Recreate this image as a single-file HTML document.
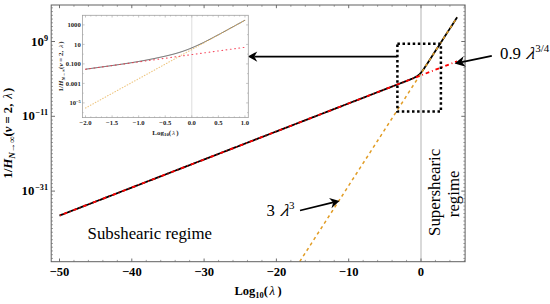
<!DOCTYPE html><html><head><meta charset="utf-8"><style>
html,body{margin:0;padding:0;background:#fff;}
svg{display:block;}
text{font-family:"Liberation Serif",serif;}
</style></head><body>
<svg width="550" height="304" viewBox="0 0 550 304">
<defs><clipPath id="cm"><rect x="51.2" y="5.0" width="413.9" height="256.7"/></clipPath>
<clipPath id="ci"><rect x="82.4" y="15.3" width="165.9" height="102.3"/></clipPath></defs>
<line x1="421.00" y1="5.0" x2="421.00" y2="261.7" stroke="#d0d0d0" stroke-width="1.6"/>
<g clip-path="url(#cm)" fill="none" stroke-linejoin="round">
<path d="M59.50,215.58 L61.09,214.96 L62.68,214.35 L64.27,213.73 L65.86,213.11 L67.45,212.50 L69.04,211.88 L70.63,211.26 L72.22,210.64 L73.82,210.03 L75.41,209.41 L77.00,208.79 L78.59,208.18 L80.18,207.56 L81.77,206.94 L83.36,206.32 L84.95,205.71 L86.54,205.09 L88.13,204.47 L89.72,203.86 L91.31,203.24 L92.90,202.62 L94.49,202.00 L96.08,201.39 L97.67,200.77 L99.26,200.15 L100.86,199.54 L102.45,198.92 L104.04,198.30 L105.63,197.69 L107.22,197.07 L108.81,196.45 L110.40,195.83 L111.99,195.22 L113.58,194.60 L115.17,193.98 L116.76,193.37 L118.35,192.75 L119.94,192.13 L121.53,191.51 L123.12,190.90 L124.71,190.28 L126.31,189.66 L127.90,189.05 L129.49,188.43 L131.08,187.81 L132.67,187.19 L134.26,186.58 L135.85,185.96 L137.44,185.34 L139.03,184.73 L140.62,184.11 L142.21,183.49 L143.80,182.87 L145.39,182.26 L146.98,181.64 L148.57,181.02 L150.16,180.41 L151.75,179.79 L153.35,179.17 L154.94,178.56 L156.53,177.94 L158.12,177.32 L159.71,176.70 L161.30,176.09 L162.89,175.47 L164.48,174.85 L166.07,174.24 L167.66,173.62 L169.25,173.00 L170.84,172.38 L172.43,171.77 L174.02,171.15 L175.61,170.53 L177.20,169.92 L178.79,169.30 L180.39,168.68 L181.98,168.06 L183.57,167.45 L185.16,166.83 L186.75,166.21 L188.34,165.60 L189.93,164.98 L191.52,164.36 L193.11,163.74 L194.70,163.13 L196.29,162.51 L197.88,161.89 L199.47,161.28 L201.06,160.66 L202.65,160.04 L204.24,159.43 L205.84,158.81 L207.43,158.19 L209.02,157.57 L210.61,156.96 L212.20,156.34 L213.79,155.72 L215.38,155.11 L216.97,154.49 L218.56,153.87 L220.15,153.25 L221.74,152.64 L223.33,152.02 L224.92,151.40 L226.51,150.79 L228.10,150.17 L229.69,149.55 L231.28,148.93 L232.88,148.32 L234.47,147.70 L236.06,147.08 L237.65,146.47 L239.24,145.85 L240.83,145.23 L242.42,144.61 L244.01,144.00 L245.60,143.38 L247.19,142.76 L248.78,142.15 L250.37,141.53 L251.96,140.91 L253.55,140.29 L255.14,139.68 L256.73,139.06 L258.32,138.44 L259.92,137.83 L261.51,137.21 L263.10,136.59 L264.69,135.98 L266.28,135.36 L267.87,134.74 L269.46,134.12 L271.05,133.51 L272.64,132.89 L274.23,132.27 L275.82,131.66 L277.41,131.04 L279.00,130.42 L280.59,129.80 L282.18,129.19 L283.77,128.57 L285.37,127.95 L286.96,127.34 L288.55,126.72 L290.14,126.10 L291.73,125.48 L293.32,124.87 L294.91,124.25 L296.50,123.63 L298.09,123.02 L299.68,122.40 L301.27,121.78 L302.86,121.16 L304.45,120.55 L306.04,119.93 L307.63,119.31 L309.22,118.70 L310.81,118.08 L312.41,117.46 L314.00,116.85 L315.59,116.23 L317.18,115.61 L318.77,114.99 L320.36,114.38 L321.95,113.76 L323.54,113.14 L325.13,112.53 L326.72,111.91 L328.31,111.29 L329.90,110.67 L331.49,110.06 L333.08,109.44 L334.67,108.82 L336.26,108.21 L337.86,107.59 L339.45,106.97 L341.04,106.35 L342.63,105.74 L344.22,105.12 L345.81,104.50 L347.40,103.89 L348.99,103.27 L350.58,102.65 L352.17,102.03 L353.76,101.42 L355.35,100.80 L356.94,100.18 L358.53,99.57 L360.12,98.95 L361.71,98.33 L363.30,97.72 L364.90,97.10 L366.49,96.48 L368.08,95.86 L369.67,95.25 L371.26,94.63 L372.85,94.01 L374.44,93.40 L376.03,92.78 L377.62,92.16 L379.21,91.54 L380.80,90.93 L382.39,90.31 L383.98,89.69 L385.57,89.08 L387.16,88.46 L388.75,87.84 L390.34,87.22 L391.94,86.61 L393.53,85.99 L395.12,85.37 L396.71,84.76 L398.30,84.14 L399.89,83.52 L401.48,82.90 L403.07,82.29 L404.66,81.67 L406.25,81.05 L407.84,80.44 L409.43,79.82 L411.02,79.18 L412.61,78.51 L414.20,77.76 L415.79,76.89 L417.38,75.93 L418.98,74.78 L420.57,73.25 L422.16,71.28 L423.75,69.02 L425.34,66.62 L426.93,64.17 L428.52,61.70 L430.11,59.24 L431.70,56.77 L433.29,54.30 L434.88,51.83 L436.47,49.36 L438.06,46.90 L439.65,44.43 L441.24,41.96 L442.83,39.49 L444.43,37.02 L446.02,34.55 L447.61,32.09 L449.20,29.62 L450.79,27.15 L452.38,24.68 L453.97,22.21 L455.56,19.74 L457.15,17.28" stroke="#000" stroke-width="1.8"/>
<path d="M290.86,275.34 L457.15,17.28" stroke="#E19C24" stroke-width="1.5" stroke-dasharray="3.2 3.255" stroke-dashoffset="3.0"/>
<path d="M59.50,215.58 L457.15,61.31" stroke="#FF0000" stroke-width="1.8" stroke-dasharray="3.8 2.9 0.9 2.9" stroke-dashoffset="6.2" stroke-linecap="butt"/>
</g>
<path d="M73.96,261.7 v-1.8 M73.96,5.0 v1.8 M88.42,261.7 v-1.8 M88.42,5.0 v1.8 M102.88,261.7 v-1.8 M102.88,5.0 v1.8 M117.34,261.7 v-1.8 M117.34,5.0 v1.8 M146.26,261.7 v-1.8 M146.26,5.0 v1.8 M160.72,261.7 v-1.8 M160.72,5.0 v1.8 M175.18,261.7 v-1.8 M175.18,5.0 v1.8 M189.64,261.7 v-1.8 M189.64,5.0 v1.8 M218.56,261.7 v-1.8 M218.56,5.0 v1.8 M233.02,261.7 v-1.8 M233.02,5.0 v1.8 M247.48,261.7 v-1.8 M247.48,5.0 v1.8 M261.94,261.7 v-1.8 M261.94,5.0 v1.8 M290.86,261.7 v-1.8 M290.86,5.0 v1.8 M305.32,261.7 v-1.8 M305.32,5.0 v1.8 M319.78,261.7 v-1.8 M319.78,5.0 v1.8 M334.24,261.7 v-1.8 M334.24,5.0 v1.8 M363.16,261.7 v-1.8 M363.16,5.0 v1.8 M377.62,261.7 v-1.8 M377.62,5.0 v1.8 M392.08,261.7 v-1.8 M392.08,5.0 v1.8 M406.54,261.7 v-1.8 M406.54,5.0 v1.8 M435.46,261.7 v-1.8 M435.46,5.0 v1.8 M449.92,261.7 v-1.8 M449.92,5.0 v1.8 M464.38,261.7 v-1.8 M464.38,5.0 v1.8 M51.2,258.42 h1.8 M465.1,258.42 h-1.8 M51.2,254.68 h1.8 M465.1,254.68 h-1.8 M51.2,250.94 h1.8 M465.1,250.94 h-1.8 M51.2,247.20 h1.8 M465.1,247.20 h-1.8 M51.2,243.46 h1.8 M465.1,243.46 h-1.8 M51.2,239.72 h1.8 M465.1,239.72 h-1.8 M51.2,235.98 h1.8 M465.1,235.98 h-1.8 M51.2,232.24 h1.8 M465.1,232.24 h-1.8 M51.2,228.50 h1.8 M465.1,228.50 h-1.8 M51.2,224.76 h1.8 M465.1,224.76 h-1.8 M51.2,221.02 h1.8 M465.1,221.02 h-1.8 M51.2,217.28 h1.8 M465.1,217.28 h-1.8 M51.2,213.54 h1.8 M465.1,213.54 h-1.8 M51.2,209.80 h1.8 M465.1,209.80 h-1.8 M51.2,206.06 h1.8 M465.1,206.06 h-1.8 M51.2,202.32 h1.8 M465.1,202.32 h-1.8 M51.2,198.58 h1.8 M465.1,198.58 h-1.8 M51.2,194.84 h1.8 M465.1,194.84 h-1.8 M51.2,187.36 h1.8 M465.1,187.36 h-1.8 M51.2,183.62 h1.8 M465.1,183.62 h-1.8 M51.2,179.88 h1.8 M465.1,179.88 h-1.8 M51.2,176.14 h1.8 M465.1,176.14 h-1.8 M51.2,172.40 h1.8 M465.1,172.40 h-1.8 M51.2,168.66 h1.8 M465.1,168.66 h-1.8 M51.2,164.92 h1.8 M465.1,164.92 h-1.8 M51.2,161.18 h1.8 M465.1,161.18 h-1.8 M51.2,157.44 h1.8 M465.1,157.44 h-1.8 M51.2,153.70 h1.8 M465.1,153.70 h-1.8 M51.2,149.96 h1.8 M465.1,149.96 h-1.8 M51.2,146.22 h1.8 M465.1,146.22 h-1.8 M51.2,142.48 h1.8 M465.1,142.48 h-1.8 M51.2,138.74 h1.8 M465.1,138.74 h-1.8 M51.2,135.00 h1.8 M465.1,135.00 h-1.8 M51.2,131.26 h1.8 M465.1,131.26 h-1.8 M51.2,127.52 h1.8 M465.1,127.52 h-1.8 M51.2,123.78 h1.8 M465.1,123.78 h-1.8 M51.2,120.04 h1.8 M465.1,120.04 h-1.8 M51.2,112.56 h1.8 M465.1,112.56 h-1.8 M51.2,108.82 h1.8 M465.1,108.82 h-1.8 M51.2,105.08 h1.8 M465.1,105.08 h-1.8 M51.2,101.34 h1.8 M465.1,101.34 h-1.8 M51.2,97.60 h1.8 M465.1,97.60 h-1.8 M51.2,93.86 h1.8 M465.1,93.86 h-1.8 M51.2,90.12 h1.8 M465.1,90.12 h-1.8 M51.2,86.38 h1.8 M465.1,86.38 h-1.8 M51.2,82.64 h1.8 M465.1,82.64 h-1.8 M51.2,78.90 h1.8 M465.1,78.90 h-1.8 M51.2,75.16 h1.8 M465.1,75.16 h-1.8 M51.2,71.42 h1.8 M465.1,71.42 h-1.8 M51.2,67.68 h1.8 M465.1,67.68 h-1.8 M51.2,63.94 h1.8 M465.1,63.94 h-1.8 M51.2,60.20 h1.8 M465.1,60.20 h-1.8 M51.2,56.46 h1.8 M465.1,56.46 h-1.8 M51.2,52.72 h1.8 M465.1,52.72 h-1.8 M51.2,48.98 h1.8 M465.1,48.98 h-1.8 M51.2,45.24 h1.8 M465.1,45.24 h-1.8 M51.2,37.76 h1.8 M465.1,37.76 h-1.8 M51.2,34.02 h1.8 M465.1,34.02 h-1.8 M51.2,30.28 h1.8 M465.1,30.28 h-1.8 M51.2,26.54 h1.8 M465.1,26.54 h-1.8 M51.2,22.80 h1.8 M465.1,22.80 h-1.8 M51.2,19.06 h1.8 M465.1,19.06 h-1.8 M51.2,15.32 h1.8 M465.1,15.32 h-1.8 M51.2,11.58 h1.8 M465.1,11.58 h-1.8 M51.2,7.84 h1.8 M465.1,7.84 h-1.8" stroke="#7a7a7a" stroke-width="0.7" fill="none"/>
<path d="M59.50,261.7 v-3.2 M59.50,5.0 v3.2 M131.80,261.7 v-3.2 M131.80,5.0 v3.2 M204.10,261.7 v-3.2 M204.10,5.0 v3.2 M276.40,261.7 v-3.2 M276.40,5.0 v3.2 M348.70,261.7 v-3.2 M348.70,5.0 v3.2 M421.00,261.7 v-3.2 M421.00,5.0 v3.2 M51.2,191.10 h3.8 M465.1,191.10 h-3.8 M51.2,116.30 h3.8 M465.1,116.30 h-3.8 M51.2,41.50 h3.8 M465.1,41.50 h-3.8" stroke="#606060" stroke-width="0.9" fill="none"/>
<rect x="51.2" y="5.0" width="413.9" height="256.7" fill="none" stroke="#606060" stroke-width="1"/>
<text x="59.50" y="276" font-size="12.6" font-weight="bold" text-anchor="middle">−50</text>
<text x="131.80" y="276" font-size="12.6" font-weight="bold" text-anchor="middle">−40</text>
<text x="204.10" y="276" font-size="12.6" font-weight="bold" text-anchor="middle">−30</text>
<text x="276.40" y="276" font-size="12.6" font-weight="bold" text-anchor="middle">−20</text>
<text x="348.70" y="276" font-size="12.6" font-weight="bold" text-anchor="middle">−10</text>
<text x="421.00" y="276" font-size="12.6" font-weight="bold" text-anchor="middle">0</text>
<text x="48" y="45.60" font-size="12.8" font-weight="bold" text-anchor="end">10<tspan font-size="8.2" dy="-5" dx="0">9</tspan></text>
<text x="48" y="120.40" font-size="12.8" font-weight="bold" text-anchor="end">10<tspan font-size="8.2" dy="-5" dx="0.8">−11</tspan></text>
<text x="48" y="195.20" font-size="12.8" font-weight="bold" text-anchor="end">10<tspan font-size="8.2" dy="-5" dx="0.8">−31</tspan></text>
<text x="234.5" y="294.8" font-size="12.5" font-weight="bold">Log<tspan font-size="8.5" dy="3">10</tspan><tspan dy="-3">(</tspan><tspan font-style="italic" font-weight="normal" dx="1.5">λ</tspan><tspan dx="2.5">)</tspan></text>
<text transform="translate(12.4,178.4) rotate(-90)" font-size="12.6" font-weight="bold">1/<tspan font-style="italic">H</tspan><tspan font-size="9.2" dy="2.6" font-style="italic">N→∞</tspan><tspan dy="-2.6">(</tspan><tspan font-style="italic">v</tspan> = 2, <tspan font-style="italic" font-weight="normal" dx="1.8">λ</tspan><tspan dx="1.2">)</tspan></text>
<text x="87.6" y="239.3" font-size="16.8">Subshearic regime</text>
<text x="266.5" y="216.3" font-size="16.8">3</text>
<text transform="translate(280.6,216.3) skewX(-14) scale(1.12,1)" font-size="17" font-style="italic">λ</text>
<text x="289.0" y="208.8" font-size="11">3</text>
<text x="500" y="59" font-size="16.8">0.9</text>
<text transform="translate(526.3,59) skewX(-14) scale(1.12,1)" font-size="17" font-style="italic">λ</text>
<text x="535.2" y="51.6" font-size="11">3/4</text>
<text transform="translate(440,236) rotate(-90)" font-size="16.9">Supershearic</text>
<text transform="translate(458.8,217.2) rotate(-90)" font-size="16.8">regime</text>
<rect x="397.4" y="43.8" width="43.5" height="67.8" fill="none" stroke="#000" stroke-width="2.5" stroke-dasharray="2.5 2.6"/>
<line x1="397.30" y1="56.60" x2="254.30" y2="56.60" stroke="#000" stroke-width="1.8"/><path d="M247.80,56.60 L257.30,51.40 L254.30,56.60 L257.30,61.80 Z" fill="#000"/>
<line x1="491.80" y1="55.80" x2="461.74" y2="62.10" stroke="#000" stroke-width="1.8"/><path d="M454.60,63.60 L463.57,56.20 L461.74,62.10 L465.79,66.77 Z" fill="#000"/>
<line x1="300.00" y1="210.50" x2="333.18" y2="202.44" stroke="#000" stroke-width="1.8"/><path d="M339.50,200.90 L331.50,208.20 L333.18,202.44 L329.04,198.09 Z" fill="#000"/>
<rect x="82.4" y="15.3" width="165.9" height="102.3" fill="#fff" stroke="none"/>
<line x1="191.80" y1="15.3" x2="191.80" y2="117.6" stroke="#ddd" stroke-width="1"/>
<g clip-path="url(#ci)" fill="none">
<path d="M85.50,69.22 L86.14,69.13 L86.78,69.05 L87.41,68.96 L88.05,68.87 L88.69,68.78 L89.33,68.69 L89.96,68.61 L90.60,68.52 L91.24,68.43 L91.88,68.34 L92.52,68.25 L93.15,68.17 L93.79,68.08 L94.43,67.99 L95.07,67.90 L95.70,67.82 L96.34,67.73 L96.98,67.64 L97.62,67.55 L98.26,67.46 L98.89,67.38 L99.53,67.29 L100.17,67.20 L100.81,67.11 L101.45,67.02 L102.08,66.93 L102.72,66.85 L103.36,66.76 L104.00,66.67 L104.63,66.58 L105.27,66.49 L105.91,66.40 L106.55,66.32 L107.19,66.23 L107.82,66.14 L108.46,66.05 L109.10,65.96 L109.74,65.87 L110.37,65.78 L111.01,65.69 L111.65,65.60 L112.29,65.51 L112.93,65.43 L113.56,65.34 L114.20,65.25 L114.84,65.16 L115.48,65.06 L116.11,64.97 L116.75,64.88 L117.39,64.79 L118.03,64.70 L118.67,64.61 L119.30,64.52 L119.94,64.42 L120.58,64.33 L121.22,64.24 L121.85,64.15 L122.49,64.05 L123.13,63.96 L123.77,63.86 L124.41,63.77 L125.04,63.67 L125.68,63.58 L126.32,63.48 L126.96,63.38 L127.59,63.29 L128.23,63.19 L128.87,63.09 L129.51,62.99 L130.15,62.89 L130.78,62.79 L131.42,62.69 L132.06,62.58 L132.70,62.48 L133.34,62.38 L133.97,62.27 L134.61,62.17 L135.25,62.06 L135.89,61.95 L136.52,61.85 L137.16,61.74 L137.80,61.63 L138.44,61.52 L139.08,61.41 L139.71,61.29 L140.35,61.18 L140.99,61.07 L141.63,60.95 L142.26,60.84 L142.90,60.72 L143.54,60.60 L144.18,60.49 L144.82,60.37 L145.45,60.25 L146.09,60.13 L146.73,60.01 L147.37,59.88 L148.00,59.76 L148.64,59.64 L149.28,59.51 L149.92,59.39 L150.56,59.26 L151.19,59.13 L151.83,59.01 L152.47,58.88 L153.11,58.75 L153.74,58.62 L154.38,58.49 L155.02,58.36 L155.66,58.22 L156.30,58.09 L156.93,57.96 L157.57,57.82 L158.21,57.69 L158.85,57.55 L159.48,57.42 L160.12,57.28 L160.76,57.14 L161.40,57.00 L162.04,56.86 L162.67,56.72 L163.31,56.58 L163.95,56.44 L164.59,56.29 L165.23,56.15 L165.86,56.00 L166.50,55.85 L167.14,55.71 L167.78,55.55 L168.41,55.40 L169.05,55.25 L169.69,55.09 L170.33,54.93 L170.97,54.77 L171.60,54.61 L172.24,54.44 L172.88,54.28 L173.52,54.11 L174.15,53.94 L174.79,53.76 L175.43,53.58 L176.07,53.40 L176.71,53.22 L177.34,53.03 L177.98,52.84 L178.62,52.65 L179.26,52.45 L179.89,52.25 L180.53,52.05 L181.17,51.84 L181.81,51.63 L182.45,51.42 L183.08,51.20 L183.72,50.98 L184.36,50.75 L185.00,50.53 L185.63,50.29 L186.27,50.06 L186.91,49.82 L187.55,49.58 L188.19,49.33 L188.82,49.08 L189.46,48.83 L190.10,48.57 L190.74,48.31 L191.37,48.04 L192.01,47.78 L192.65,47.51 L193.29,47.23 L193.93,46.96 L194.56,46.68 L195.20,46.39 L195.84,46.11 L196.48,45.82 L197.12,45.53 L197.75,45.23 L198.39,44.94 L199.03,44.64 L199.67,44.34 L200.30,44.03 L200.94,43.73 L201.58,43.42 L202.22,43.11 L202.86,42.80 L203.49,42.48 L204.13,42.16 L204.77,41.85 L205.41,41.53 L206.04,41.20 L206.68,40.88 L207.32,40.56 L207.96,40.23 L208.60,39.90 L209.23,39.57 L209.87,39.24 L210.51,38.91 L211.15,38.58 L211.78,38.25 L212.42,37.91 L213.06,37.58 L213.70,37.24 L214.34,36.90 L214.97,36.56 L215.61,36.22 L216.25,35.88 L216.89,35.54 L217.52,35.20 L218.16,34.86 L218.80,34.52 L219.44,34.18 L220.08,33.83 L220.71,33.49 L221.35,33.14 L221.99,32.80 L222.63,32.45 L223.26,32.11 L223.90,31.76 L224.54,31.42 L225.18,31.07 L225.82,30.72 L226.45,30.37 L227.09,30.03 L227.73,29.68 L228.37,29.33 L229.01,28.98 L229.64,28.64 L230.28,28.29 L230.92,27.94 L231.56,27.59 L232.19,27.24 L232.83,26.89 L233.47,26.54 L234.11,26.19 L234.75,25.84 L235.38,25.49 L236.02,25.14 L236.66,24.79 L237.30,24.44 L237.93,24.09 L238.57,23.74 L239.21,23.39 L239.85,23.04 L240.49,22.69 L241.12,22.34 L241.76,21.99 L242.40,21.64 L243.04,21.29 L243.67,20.94 L244.31,20.59 L244.95,20.24" stroke="#555" stroke-width="1.0"/>
<path d="M85.50,108.00 L244.95,20.25" stroke="#E8B050" stroke-width="1.1" stroke-dasharray="0.6 2.2" stroke-linecap="round" stroke-opacity="0.72"/>
<path d="M85.50,69.22 L244.95,47.28" stroke="#F53048" stroke-width="1.1" stroke-dasharray="0.8 3.5" stroke-linecap="round" stroke-opacity="0.85"/>
</g>
<path d="M85.50,117.6 v-2.2 M85.50,15.3 v2.2 M90.82,117.6 v-1.2 M90.82,15.3 v1.2 M96.13,117.6 v-1.2 M96.13,15.3 v1.2 M101.45,117.6 v-1.2 M101.45,15.3 v1.2 M106.76,117.6 v-1.2 M106.76,15.3 v1.2 M112.08,117.6 v-2.2 M112.08,15.3 v2.2 M117.39,117.6 v-1.2 M117.39,15.3 v1.2 M122.71,117.6 v-1.2 M122.71,15.3 v1.2 M128.02,117.6 v-1.2 M128.02,15.3 v1.2 M133.34,117.6 v-1.2 M133.34,15.3 v1.2 M138.65,117.6 v-2.2 M138.65,15.3 v2.2 M143.97,117.6 v-1.2 M143.97,15.3 v1.2 M149.28,117.6 v-1.2 M149.28,15.3 v1.2 M154.60,117.6 v-1.2 M154.60,15.3 v1.2 M159.91,117.6 v-1.2 M159.91,15.3 v1.2 M165.23,117.6 v-2.2 M165.23,15.3 v2.2 M170.54,117.6 v-1.2 M170.54,15.3 v1.2 M175.86,117.6 v-1.2 M175.86,15.3 v1.2 M181.17,117.6 v-1.2 M181.17,15.3 v1.2 M186.49,117.6 v-1.2 M186.49,15.3 v1.2 M191.80,117.6 v-2.2 M191.80,15.3 v2.2 M197.12,117.6 v-1.2 M197.12,15.3 v1.2 M202.43,117.6 v-1.2 M202.43,15.3 v1.2 M207.75,117.6 v-1.2 M207.75,15.3 v1.2 M213.06,117.6 v-1.2 M213.06,15.3 v1.2 M218.38,117.6 v-2.2 M218.38,15.3 v2.2 M223.69,117.6 v-1.2 M223.69,15.3 v1.2 M229.00,117.6 v-1.2 M229.00,15.3 v1.2 M234.32,117.6 v-1.2 M234.32,15.3 v1.2 M239.64,117.6 v-1.2 M239.64,15.3 v1.2 M244.95,117.6 v-2.2 M244.95,15.3 v2.2 M82.4,112.65 h1.2 M248.3,112.65 h-1.2 M82.4,102.90 h2.2 M248.3,102.90 h-2.2 M82.4,93.15 h1.2 M248.3,93.15 h-1.2 M82.4,83.40 h2.2 M248.3,83.40 h-2.2 M82.4,73.65 h1.2 M248.3,73.65 h-1.2 M82.4,63.90 h2.2 M248.3,63.90 h-2.2 M82.4,54.15 h1.2 M248.3,54.15 h-1.2 M82.4,44.40 h2.2 M248.3,44.40 h-2.2 M82.4,34.65 h1.2 M248.3,34.65 h-1.2 M82.4,24.90 h2.2 M248.3,24.90 h-2.2" stroke="#a0a0a0" stroke-width="0.6" fill="none"/>
<rect x="82.4" y="15.3" width="165.9" height="102.3" fill="none" stroke="#a0a0a0" stroke-width="0.8"/>
<text x="80.7" y="27.00" font-size="6.6" font-weight="bold" text-anchor="end" fill="#222">1000</text>
<text x="80.7" y="46.50" font-size="6.6" font-weight="bold" text-anchor="end" fill="#222">10</text>
<text x="80.7" y="66.00" font-size="6.6" font-weight="bold" text-anchor="end" fill="#222">0.100</text>
<text x="80.7" y="85.50" font-size="6.6" font-weight="bold" text-anchor="end" fill="#222">0.001</text>
<text x="80.7" y="105.00" font-size="6.6" font-weight="bold" text-anchor="end" fill="#222">10<tspan font-size="4.4" dy="-2.4">−5</tspan></text>
<text x="85.50" y="125.2" font-size="6.6" font-weight="bold" text-anchor="middle" fill="#222">−2.0</text>
<text x="112.08" y="125.2" font-size="6.6" font-weight="bold" text-anchor="middle" fill="#222">−1.5</text>
<text x="138.65" y="125.2" font-size="6.6" font-weight="bold" text-anchor="middle" fill="#222">−1.0</text>
<text x="165.23" y="125.2" font-size="6.6" font-weight="bold" text-anchor="middle" fill="#222">−0.5</text>
<text x="191.80" y="125.2" font-size="6.6" font-weight="bold" text-anchor="middle" fill="#222">0.0</text>
<text x="218.38" y="125.2" font-size="6.6" font-weight="bold" text-anchor="middle" fill="#222">0.5</text>
<text x="244.95" y="125.2" font-size="6.6" font-weight="bold" text-anchor="middle" fill="#222">1.0</text>
<text x="165.5" y="134.6" font-size="7" font-weight="bold" text-anchor="middle" fill="#222">Log<tspan font-size="4.8" dy="1.6">10</tspan><tspan dy="-1.6">(</tspan><tspan font-style="italic" font-weight="normal" dx="0.8">λ</tspan><tspan dx="1.3">)</tspan></text>
<text transform="translate(63.2,66.5) rotate(-90)" font-size="7" font-weight="bold" text-anchor="middle" fill="#222">1/<tspan font-style="italic">H</tspan><tspan font-size="4.8" dy="1.6" font-style="italic">N→∞</tspan><tspan dy="-1.6">(</tspan><tspan font-style="italic">v</tspan> = 2, <tspan font-style="italic" font-weight="normal" dx="1.3">λ</tspan><tspan dx="0.8">)</tspan></text>
</svg></body></html>
